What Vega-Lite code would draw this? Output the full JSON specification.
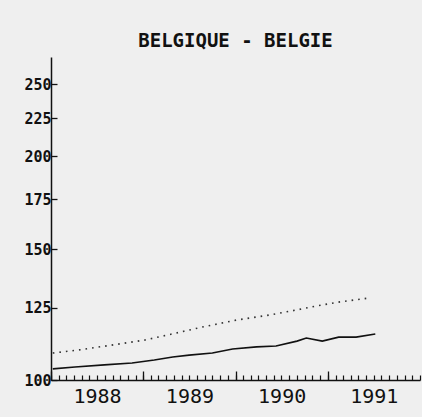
{
  "$schema": "https://vega.github.io/schema/vega-lite/v6.json",
  "width": 369,
  "height": 323,
  "autosize": "none",
  "padding": {"left": 51, "top": 57, "right": 2, "bottom": 37},
  "background": "#efefef",
  "title": {"text": "BELGIQUE - BELGIE", "font": "DejaVu Sans Mono", "fontSize": 19, "fontWeight": "bold", "anchor": "middle", "offset": 6, "color": "#111111"},
  "config": {"view": {"stroke": null}},
  "data": {"values": [
    {"s": "A", "date": "1988-01-08", "v": 103.5},
    {"s": "A", "date": "1988-04-05", "v": 104.1},
    {"s": "A", "date": "1988-07-30", "v": 104.8},
    {"s": "A", "date": "1988-11-17", "v": 105.4},
    {"s": "A", "date": "1989-02-13", "v": 106.4},
    {"s": "A", "date": "1989-04-27", "v": 107.4},
    {"s": "A", "date": "1989-07-01", "v": 108.0},
    {"s": "A", "date": "1989-10-01", "v": 108.7},
    {"s": "A", "date": "1989-12-20", "v": 110.1},
    {"s": "A", "date": "1990-03-25", "v": 110.8},
    {"s": "A", "date": "1990-06-10", "v": 111.1},
    {"s": "A", "date": "1990-09-01", "v": 112.8},
    {"s": "A", "date": "1990-10-08", "v": 113.9},
    {"s": "A", "date": "1990-12-10", "v": 112.8},
    {"s": "A", "date": "1991-02-13", "v": 114.2},
    {"s": "A", "date": "1991-04-23", "v": 114.2},
    {"s": "A", "date": "1991-07-08", "v": 115.3},
    {"s": "B", "date": "1988-01-08", "v": 108.7},
    {"s": "B", "date": "1988-04-15", "v": 109.7},
    {"s": "B", "date": "1988-08-28", "v": 111.4},
    {"s": "B", "date": "1989-01-08", "v": 113.2},
    {"s": "B", "date": "1989-04-23", "v": 115.3},
    {"s": "B", "date": "1989-08-21", "v": 117.8},
    {"s": "B", "date": "1990-01-04", "v": 120.4},
    {"s": "B", "date": "1990-05-15", "v": 122.3},
    {"s": "B", "date": "1990-08-29", "v": 124.2},
    {"s": "B", "date": "1990-11-18", "v": 125.8},
    {"s": "B", "date": "1991-02-13", "v": 127.3},
    {"s": "B", "date": "1991-06-13", "v": 128.9}
  ]},
  "layer": [
    {
      "transform": [{"filter": "datum.s == 'A'"}],
      "mark": {"type": "line", "color": "#111111", "strokeWidth": 1.6},
      "encoding": {
        "x": {"field": "date", "type": "temporal",
          "scale": {"domain": [{"year": 1988, "month": 1, "date": 1}, {"year": 1992, "month": 1, "date": 1}]},
          "axis": {"orient": "bottom", "title": null, "grid": false, "tickSize": -9, "tickColor": "#111111", "tickWidth": 1.3, "domainColor": "#111111", "domainWidth": 1.5,
            "values": [{"year": 1988, "month": 1, "date": 1}, {"year": 1989, "month": 1, "date": 1}, {"year": 1990, "month": 1, "date": 1}, {"year": 1991, "month": 1, "date": 1}],
            "format": "%Y", "labelOffset": 46, "labelFont": "DejaVu Sans Mono", "labelFontSize": 20, "labelColor": "#111111", "labelPadding": 15, "labelFlush": false, "labelOverlap": false, "labelBound": false}},
        "y": {"field": "v", "type": "quantitative",
          "scale": {"type": "log", "domain": [100, 272], "nice": false},
          "axis": {"title": null, "grid": false, "values": [100, 125, 150, 175, 200, 225, 250], "tickSize": -6, "tickColor": "#111111", "tickWidth": 1.3,
            "domainColor": "#111111", "domainWidth": 1.5, "labelFont": "DejaVu Sans Mono", "labelFontSize": 15, "labelFontWeight": "bold", "labelColor": "#111111", "labelPadding": 6, "labelFlush": false}}
      }
    },
    {
      "transform": [{"filter": "datum.s == 'B'"}],
      "mark": {"type": "line", "color": "#333333", "strokeWidth": 1.6, "strokeDash": [1.6, 5]},
      "encoding": {
        "x": {"field": "date", "type": "temporal",
          "axis": {"orient": "bottom", "title": null, "grid": false, "labels": false, "domain": false, "tickCount": {"interval": "month", "step": 1}, "tickSize": -5, "tickColor": "#111111", "tickWidth": 1.2}},
        "y": {"field": "v", "type": "quantitative", "axis": null}
      }
    }
  ],
  "resolve": {"axis": {"x": "independent", "y": "independent"}}
}
